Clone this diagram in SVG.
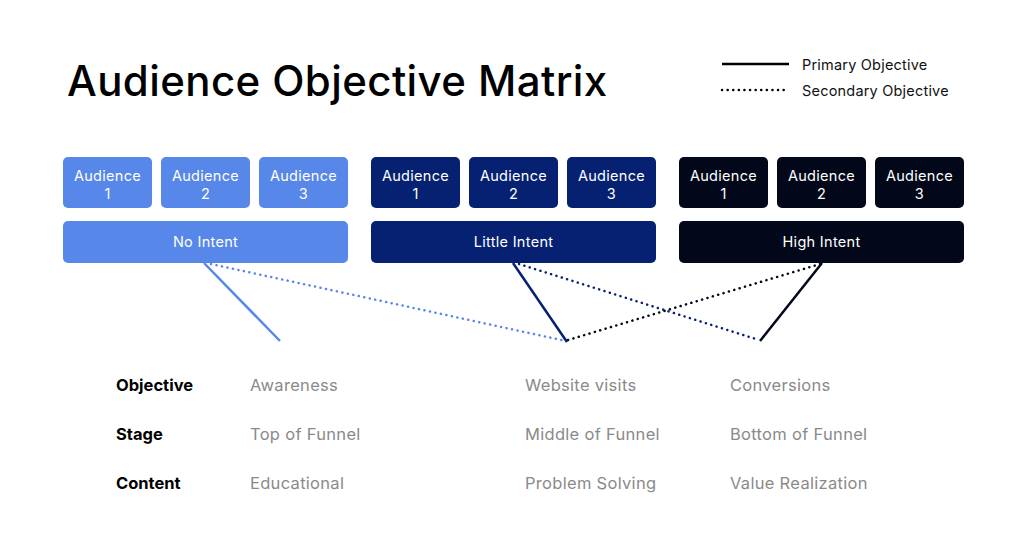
<svg xmlns="http://www.w3.org/2000/svg" width="1024" height="544" viewBox="0 0 1024 544">
<style>
text{font-family:Inter,"Liberation Sans",sans-serif}
.title{font-size:42px;font-weight:500;fill:#000;letter-spacing:0.4px}
.leg{font-size:14.5px;fill:#111;letter-spacing:0.2px}
.bt{font-size:14.5px;fill:#fff;text-anchor:middle;letter-spacing:0.3px}
.lab{font-size:16.5px;font-weight:700;fill:#000}
.val{font-size:16.5px;fill:#8a8a8a;letter-spacing:0.3px}
.c1{fill:#5787e8}
.c2{fill:#062171}
.c3{fill:#020819}
.solid{stroke-width:2.5;fill:none}
.dot{stroke-width:2.5;fill:none;stroke-dasharray:0.1 5.5;stroke-linecap:round}
</style>
<rect width="1024" height="544" fill="#fff"/>
<text class="title" x="67" y="96">Audience Objective Matrix</text>
<g id="legend">
<line x1="722" y1="64" x2="789" y2="64" stroke="#000" stroke-width="2.5"/>
<line x1="722" y1="90" x2="789" y2="90" stroke="#000" class="dot" stroke-width="2"/>
<text class="leg" x="802" y="70">Primary Objective</text>
<text class="leg" x="802" y="96">Secondary Objective</text>
</g>
<g id="no-intent">
<rect class="c1" x="63" y="157" width="89" height="51" rx="5"/>
<rect class="c1" x="161" y="157" width="89" height="51" rx="5"/>
<rect class="c1" x="259" y="157" width="89" height="51" rx="5"/>
<rect class="c1" x="63" y="221" width="285" height="42" rx="5"/>
<text class="bt" x="107.5" y="181">Audience</text><text class="bt" x="107.5" y="199">1</text>
<text class="bt" x="205.5" y="181">Audience</text><text class="bt" x="205.5" y="199">2</text>
<text class="bt" x="303.5" y="181">Audience</text><text class="bt" x="303.5" y="199">3</text>
<text class="bt" x="205.5" y="247">No Intent</text>
</g>
<g id="little-intent">
<rect class="c2" x="371" y="157" width="89" height="51" rx="5"/>
<rect class="c2" x="469" y="157" width="89" height="51" rx="5"/>
<rect class="c2" x="567" y="157" width="89" height="51" rx="5"/>
<rect class="c2" x="371" y="221" width="285" height="42" rx="5"/>
<text class="bt" x="415.5" y="181">Audience</text><text class="bt" x="415.5" y="199">1</text>
<text class="bt" x="513.5" y="181">Audience</text><text class="bt" x="513.5" y="199">2</text>
<text class="bt" x="611.5" y="181">Audience</text><text class="bt" x="611.5" y="199">3</text>
<text class="bt" x="513.5" y="247">Little Intent</text>
</g>
<g id="high-intent">
<rect class="c3" x="679" y="157" width="89" height="51" rx="5"/>
<rect class="c3" x="777" y="157" width="89" height="51" rx="5"/>
<rect class="c3" x="875" y="157" width="89" height="51" rx="5"/>
<rect class="c3" x="679" y="221" width="285" height="42" rx="5"/>
<text class="bt" x="723.5" y="181">Audience</text><text class="bt" x="723.5" y="199">1</text>
<text class="bt" x="821.5" y="181">Audience</text><text class="bt" x="821.5" y="199">2</text>
<text class="bt" x="919.5" y="181">Audience</text><text class="bt" x="919.5" y="199">3</text>
<text class="bt" x="821.5" y="247">High Intent</text>
</g>
<g id="connectors">
<line class="dot" stroke="#5787e8" x1="211" y1="264" x2="566" y2="341"/>
<line class="dot" stroke="#062171" x1="519" y1="264" x2="759" y2="340"/>
<line class="dot" stroke="#020819" x1="568" y1="340" x2="820" y2="264"/>
<line class="solid" stroke="#5787e8" x1="204" y1="263" x2="280" y2="341"/>
<line class="solid" stroke="#062171" x1="513" y1="263" x2="567" y2="342"/>
<line class="solid" stroke="#020819" x1="822" y1="263" x2="760" y2="341"/>
</g>
<g id="table">
<text class="lab" x="116" y="391">Objective</text>
<text class="lab" x="116" y="440">Stage</text>
<text class="lab" x="116" y="489">Content</text>
<text class="val" x="250" y="391">Awareness</text>
<text class="val" x="250" y="440">Top of Funnel</text>
<text class="val" x="250" y="489">Educational</text>
<text class="val" x="525" y="391">Website visits</text>
<text class="val" x="525" y="440">Middle of Funnel</text>
<text class="val" x="525" y="489">Problem Solving</text>
<text class="val" x="730" y="391">Conversions</text>
<text class="val" x="730" y="440">Bottom of Funnel</text>
<text class="val" x="730" y="489">Value Realization</text>
</g>
</svg>
